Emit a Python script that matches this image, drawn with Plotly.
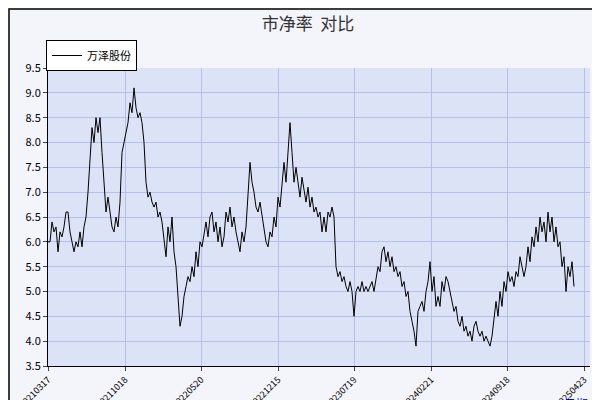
import plotly.graph_objects as go

values = [6.0,6.0,6.4,6.2,6.3,5.8,6.2,6.1,6.3,6.6,6.6,6.2,6.0,5.8,6.0,5.9,6.2,5.9,6.3,6.5,
7.0,7.8,8.3,8.0,8.5,8.2,8.5,7.8,7.2,6.6,6.9,6.6,6.3,6.2,6.5,6.3,6.8,7.8,8.0,8.2,
8.4,8.8,8.6,9.1,8.7,8.5,8.6,8.4,8.0,7.2,6.9,7.0,6.8,6.7,6.8,6.5,6.6,6.4,6.0,5.7,
6.3,6.0,6.5,5.8,5.5,4.8,4.3,4.5,4.9,5.1,5.3,5.2,5.5,5.3,5.8,5.5,6.0,5.9,6.2,6.4,
6.1,6.5,6.6,6.2,6.4,6.0,6.3,5.9,6.1,6.6,6.4,6.7,6.3,6.5,6.2,6.0,5.8,6.2,6.0,6.3,
7.0,7.6,7.2,7.0,6.7,6.6,6.8,6.5,6.3,6.0,5.9,6.2,6.1,6.5,6.3,6.9,6.7,7.2,7.6,7.2,
7.9,8.4,7.8,7.2,7.5,7.2,6.9,7.3,7.0,6.8,7.1,6.7,6.9,6.6,6.7,6.5,6.6,6.2,6.5,6.2,
6.6,6.5,6.7,6.5,5.5,5.3,5.4,5.2,5.3,5.1,5.0,5.2,5.0,4.5,5.0,5.1,5.0,5.2,5.0,5.1,
5.0,5.1,5.2,5.0,5.3,5.5,5.4,5.8,5.9,5.6,5.8,5.5,5.7,5.4,5.5,5.3,5.4,5.1,5.2,4.9,
5.0,4.6,4.4,4.2,3.9,4.6,4.7,4.8,4.6,5.0,5.2,5.6,5.0,5.3,4.7,4.9,4.7,5.2,5.0,5.3,
5.2,5.0,4.8,4.6,4.7,4.4,4.3,4.5,4.2,4.3,4.1,4.2,4.0,4.3,4.4,4.2,4.1,4.2,4.0,4.1,
4.0,3.9,4.1,4.4,4.8,4.5,5.0,4.7,5.2,5.0,5.4,5.2,5.3,5.1,5.4,5.3,5.7,5.5,5.3,5.5,
5.9,5.6,6.1,5.9,6.3,6.0,6.5,6.2,6.4,6.0,6.6,6.2,6.5,6.0,6.3,5.9,6.0,5.5,5.7,5.0,
5.5,5.3,5.6,5.1]
tick_pos = [0, 38.5, 76.5, 115, 153, 191.5, 229.5, 268]
tick_labels = ["20210317","20211018","20220520","20221215","20230719","20240221","20240918","20250423"]
y_ticks = [3.5,4.0,4.5,5.0,5.5,6.0,6.5,7.0,7.5,8.0,8.5,9.0,9.5]

W, H = 542, 298
fig = go.Figure(go.Scatter(x=list(range(len(values))), y=values, mode="lines",
                           line=dict(color="black", width=1), name="万泽股份"))
fig.update_layout(
    width=600, height=400, margin=dict(l=40, r=18, t=60, b=42, autoexpand=False),
    paper_bgcolor="#f4f4fb", plot_bgcolor="#dde3f7",
    font=dict(family="Noto Sans CJK SC, DejaVu Sans", size=11, color="black"),
    title=dict(text="市净率  对比", x=0.5, y=0.975, xanchor="center", font=dict(size=17, color="#333")),
    showlegend=True,
    legend=dict(x=-2/W, y=1+28/H, xanchor="left", yanchor="top", bgcolor="white",
                bordercolor="black", borderwidth=1, font=dict(size=11),
                itemwidth=30, tracegroupgap=0),
    xaxis=dict(range=[0, 271], tickvals=tick_pos, ticktext=tick_labels, tickangle=-45,
               showgrid=True, gridcolor="#b4c0e6", ticks="outside", ticklen=4,
               showline=True, linecolor="black", tickfont=dict(size=9), zeroline=False,
               automargin=False),
    yaxis=dict(range=[3.5, 9.5], tickvals=y_ticks, ticktext=[f"{v:.1f}" for v in y_ticks],
               showgrid=True, gridcolor="#b4c0e6", ticks="outside", ticklen=4,
               showline=True, linecolor="black", zeroline=False, automargin=False),
    shapes=[dict(type="rect", xref="paper", yref="paper", x0=-39/W, x1=1+13/W,
                 y0=-37/H, y1=1+59/H, line=dict(color="black", width=1.5))],
    annotations=[dict(text="日期", xref="paper", yref="paper", x=1.0, y=-0.09,
                      xanchor="right", yanchor="top", showarrow=False,
                      font=dict(color="blue", size=12))],
)
fig.write_html("out.html")
